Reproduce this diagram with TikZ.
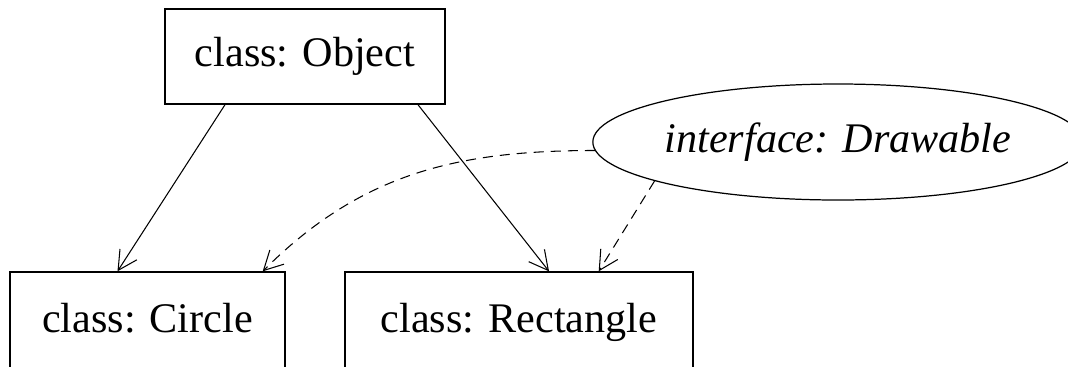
\documentclass[tikz,border=0pt]{standalone}
\usepackage{fontspec}
\setmainfont{Liberation Serif}
\usetikzlibrary{shapes, arrows.meta}

\begin{document}
\begin{tikzpicture}[
        cls/.style={rectangle, draw, line width=0.8pt, minimum height=1.9cm, inner sep=0pt, font=\fontsize{24}{28}\selectfont},
        leaf/.style={cls, minimum height=2.1cm, text depth=0.28cm},
        iface/.style={ellipse, draw, line width=0.7pt, minimum width=9.64cm, minimum height=2.32cm, inner sep=0pt, font=\fontsize{24}{28}\selectfont\itshape},
        arr/.style={-{Straight Barb[length=10.8pt, width=11.4pt]}, line width=0.6pt},
        dsh/.style={dash pattern=on 5.7pt off 4pt}
    ]
        \useasboundingbox (0, 0) rectangle (21.36, -7.32);

        \node[cls, minimum width=5.6cm] (obj) at (6.1, -1.13) {class: Object};
        \node[leaf, minimum width=5.5cm] (circ) at (2.95, -6.49) {class: Circle};
        \node[leaf, minimum width=6.96cm] (rect) at (10.38, -6.49) {class: Rectangle};
        \node[iface] (drawable) at (16.76, -2.84) {interface: Drawable};

        % inheritance
        \draw[arr] ([xshift=-1.6cm]obj.south) -- ([xshift=-0.6cm]circ.north);
        \draw[arr] ([xshift=2.26cm]obj.south) -- ([xshift=0.6cm]rect.north);

        % implementation
        \draw[arr, dsh] (drawable.182) to[out=180, in=45] ([xshift=-0.46cm]circ.north east);
        \draw[arr, dsh] (drawable.192) -- ([xshift=-1.9cm]rect.north east);
    \end{tikzpicture}
\end{document}
